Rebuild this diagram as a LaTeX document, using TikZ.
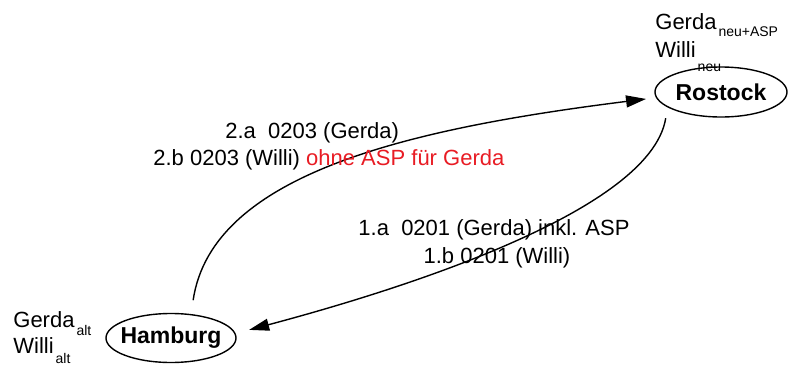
\documentclass[tikz,border=0pt]{standalone}
\usepackage{fontspec}
\setmainfont{Liberation Sans}
\usetikzlibrary{arrows.meta,shapes.geometric}
\definecolor{aspred}{RGB}{232,28,36}
\newcommand{\lowsub}[2]{\kern1pt\raisebox{-#1}{\fontsize{7}{8}\selectfont #2}}
\tikzset{
  city/.style={draw,ellipse,line width=0.7pt,minimum width=66pt,minimum height=25pt,
    inner sep=0pt,font=\fontsize{11.5}{13}\selectfont\bfseries},
  flow/.style={line width=0.7pt,-{Triangle[length=10pt,width=6pt]}},
  note/.style={inner sep=0pt,font=\fontsize{11}{13}\selectfont}
}

\begin{document}
\begin{tikzpicture}[x=0.5pt,y=-0.5pt]
        \useasboundingbox (0,0) rectangle (789,365);
        \node[city] (ros) at (721,92) {Rostock};
        \node[city,minimum width=65pt,minimum height=24.5pt,inner xsep=-2.4pt] (ham) at (171,338) {Hamburg};
        \node[note,anchor=base west] (gerdaneu) at (655,29) {Gerda\lowsub{3.5pt}{neu+ASP}};
        \node[note,anchor=base west] (willineu) at (655,57) {Willi\lowsub{7pt}{neu}};
        \node[note,anchor=base west] (gerdaalt) at (13,327) {Gerda\lowsub{4pt}{alt}};
        \node[note,anchor=base west] (willialt) at (13,353) {Willi\lowsub{5pt}{alt}};
        % messages Hamburg -> Rostock
        \draw[flow,shorten <=7pt,shorten >=5pt] (ham.50) .. controls (212,172) and (415,128) .. (ros.185);
        \node[note,anchor=base west] (msg2a) at (225,138) {2.a~ 0203 (Gerda)};
        \node[note,anchor=base west] (msg2b) at (153,165) {2.b 0203 (Willi) \textcolor{aspred}{ohne ASP für Gerda}};
        % messages Rostock -> Hamburg
        \draw[flow,shorten <=5.5pt,shorten >=7pt] (ros.196) .. controls (650,215) and (380,295) .. (ham.4);
        \node[note,anchor=base] (msg1a) at (494,235) {1.a~ 0201 (Gerda) inkl. ASP};
        \node[note,anchor=base] (msg1b) at (497,263) {1.b 0201 (Willi)};
      \end{tikzpicture}
\end{document}
